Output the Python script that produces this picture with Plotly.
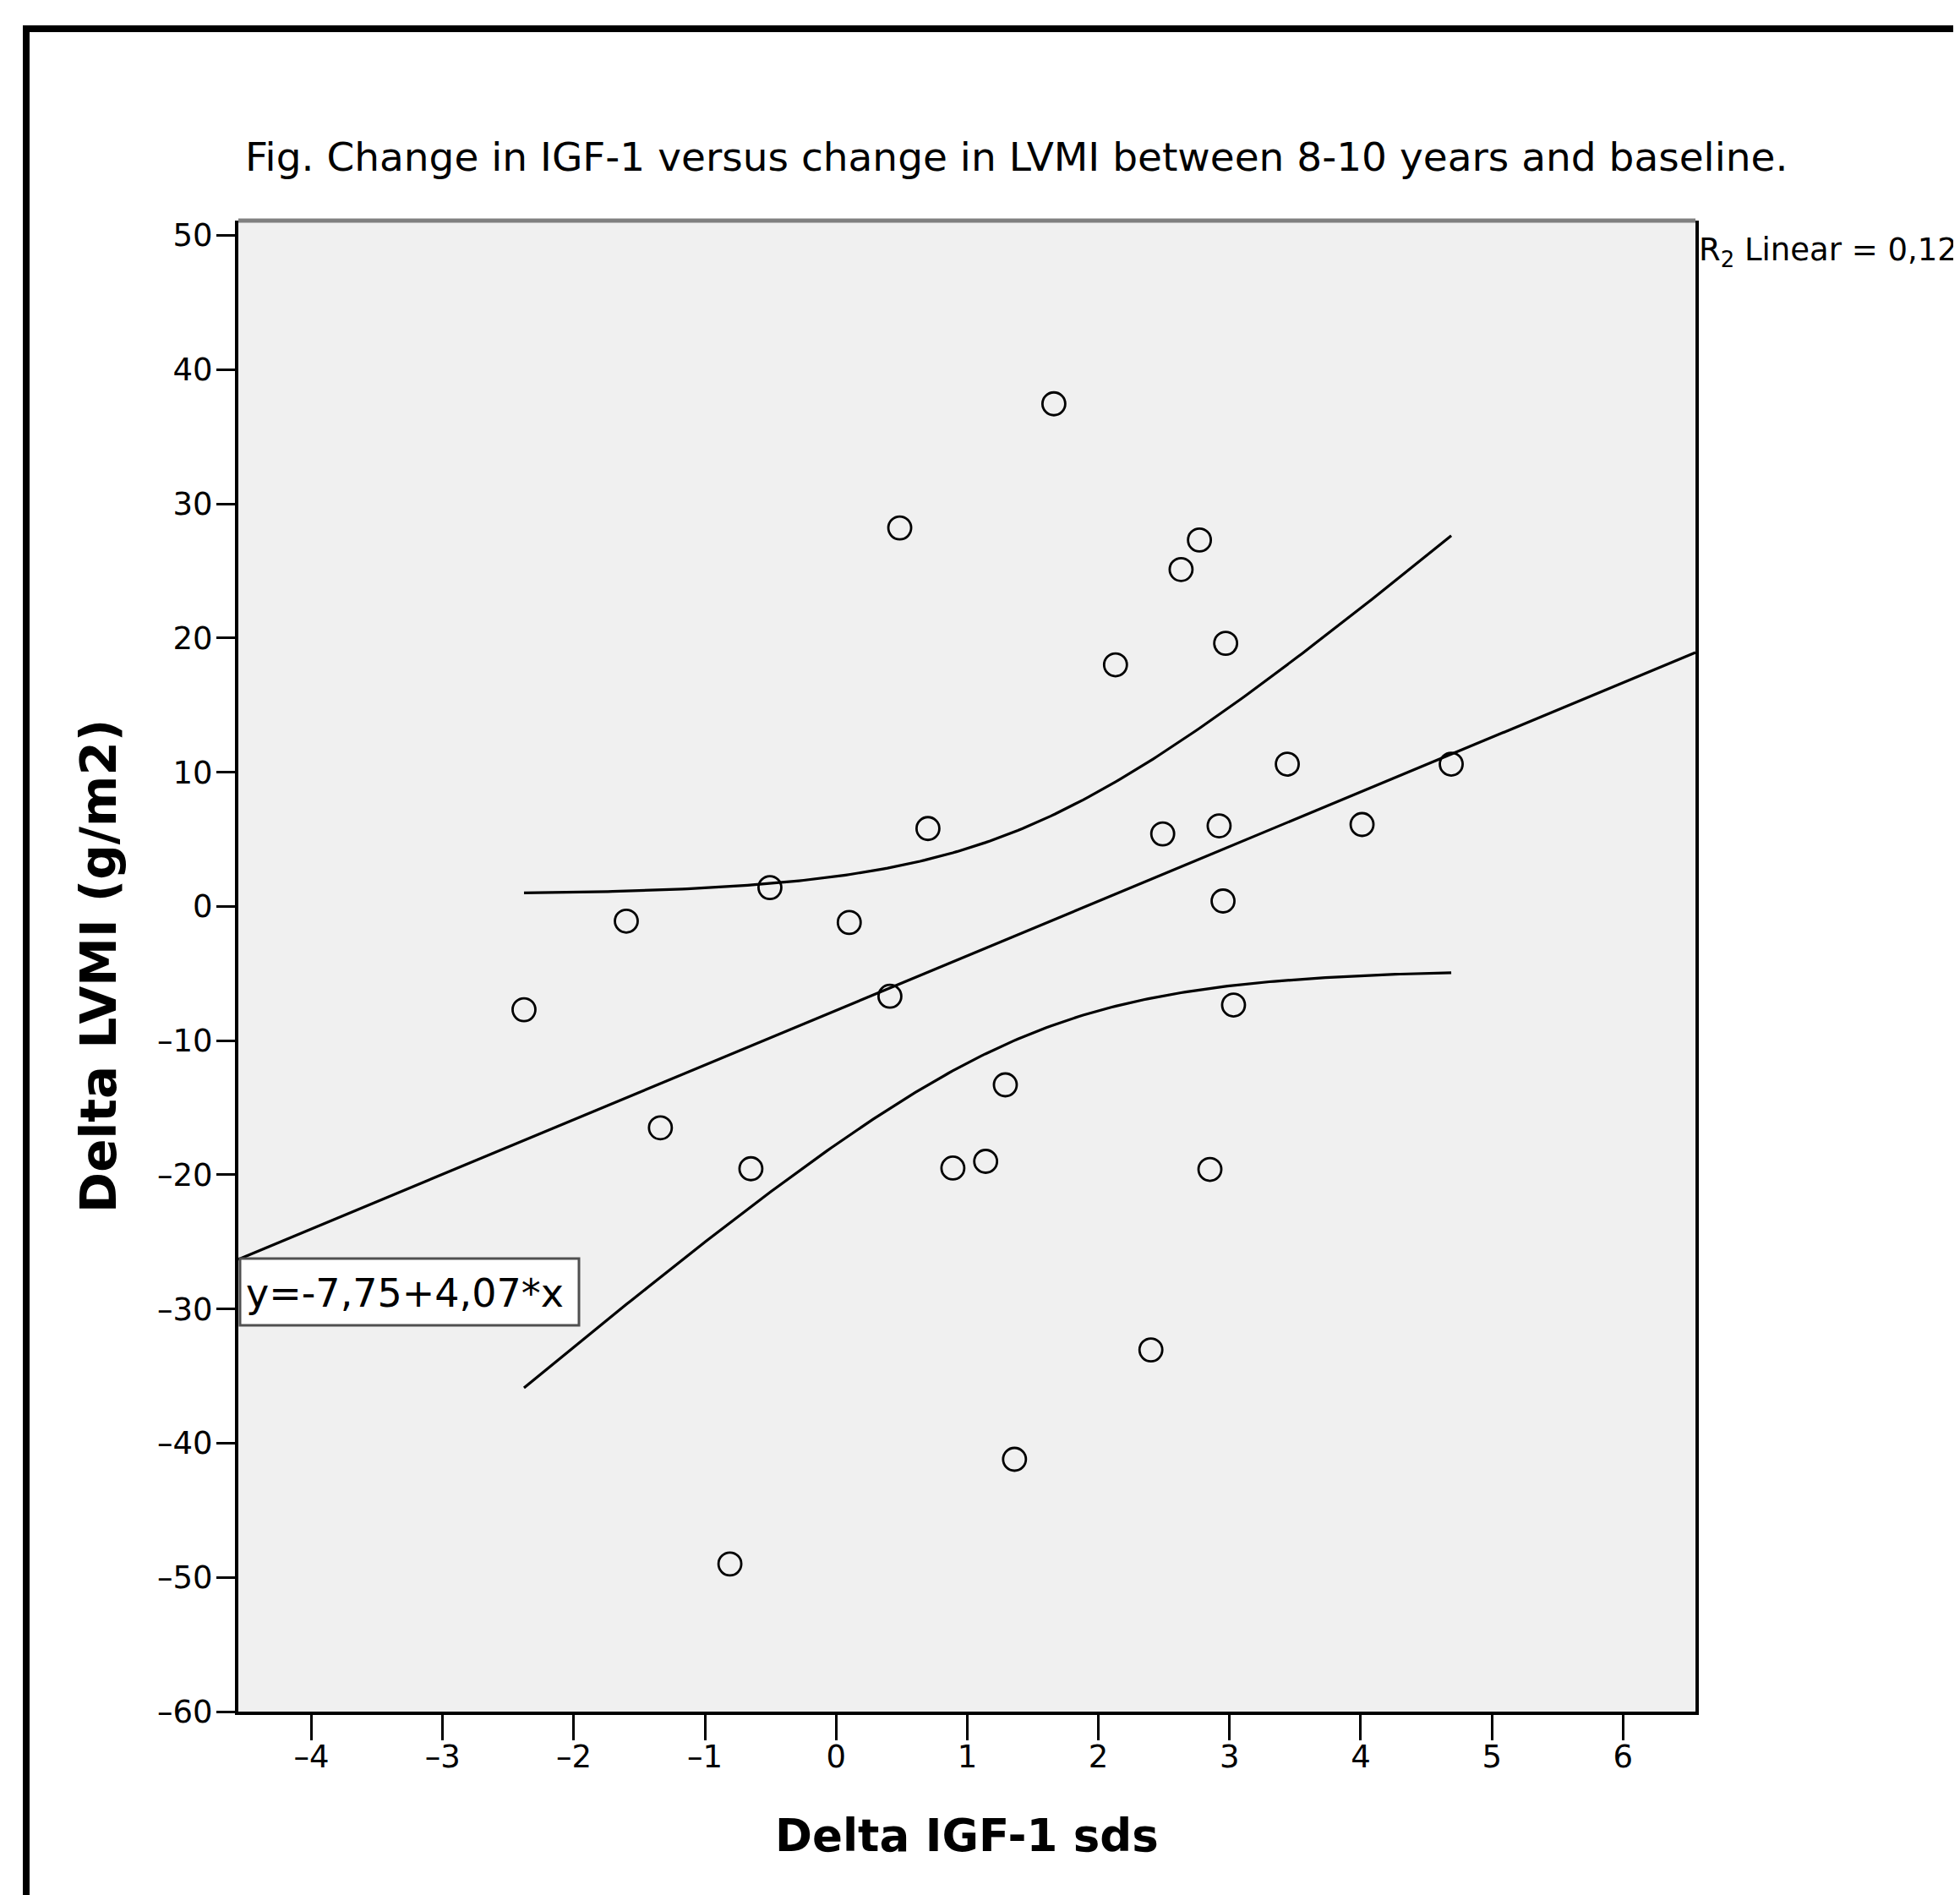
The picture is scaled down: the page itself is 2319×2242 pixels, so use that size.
import numpy as np
import plotly.graph_objects as go

# ---------------- data ----------------
delta_igf1_sds = [1.66, 0.485, 2.77, 2.63, 2.97, 2.13, 3.44, 4.69, 0.70, 2.49,
                  2.92, 4.01, -0.505, 2.95, -1.60, 0.10, -2.38, 0.41, 3.03, 1.29,
                  -1.34, -0.65, 0.89, 1.14, 2.85, 2.40, 1.36, -0.81]
delta_lvmi = [37.45, 28.2, 27.3, 25.1, 19.6, 18.0, 10.6, 10.6, 5.8, 5.4,
              6.0, 6.1, 1.4, 0.4, -1.1, -1.2, -7.7, -6.7, -7.35, -13.3,
              -16.5, -19.55, -19.5, -19.0, -19.6, -33.05, -41.2, -49.0]

fit_intercept = -7.75
fit_slope = 4.07
r2_text = "0,123"
t_crit_95_df26 = 2.056

x_tick_vals = [-4, -3, -2, -1, 0, 1, 2, 3, 4, 5, 6]
y_tick_vals = [-60, -50, -40, -30, -20, -10, 0, 10, 20, 30, 40, 50]
x_range = [-4.558, 6.552]
y_range = [-60, 51.1]

title_text = "Fig. Change in IGF-1 versus change in LVMI between 8-10 years and baseline."
x_title = "Delta IGF-1 sds"
y_title = "Delta LVMI (g/m2)"

# ---------------- derived: fit line and 95% mean CI ----------------
x = np.array(delta_igf1_sds)
y = np.array(delta_lvmi)
n = len(x)
resid = y - (fit_intercept + fit_slope * x)
s = np.sqrt(np.sum(resid ** 2) / (n - 2))
xm = x.mean()
sxx = np.sum((x - xm) ** 2)
xc = np.linspace(x.min(), x.max(), 200)
yc = fit_intercept + fit_slope * xc
half = t_crit_95_df26 * s * np.sqrt(1.0 / n + (xc - xm) ** 2 / sxx)
xf = np.array(x_range)
yf = fit_intercept + fit_slope * xf


def tick_label(v):
    return str(v).replace("-", "\u2013")


# ---------------- layout geometry (page pixels; body has 8px margin) ----------------
OFF = 8
W, H = 2319 - OFF, 2242 - OFF
L, R, T, B = 282, 2006, 261, 2025   # plot area in page pixels


def px(v):
    return (v - L) / (R - L)


def py(v):
    return (B - v) / (B - T)


FONT = "DejaVu Sans"

fig = go.Figure()
line_style = dict(color="black", width=3.2)
fig.add_trace(go.Scatter(x=xc, y=yc + half, mode="lines", line=line_style,
                         showlegend=False, hoverinfo="skip"))
fig.add_trace(go.Scatter(x=xc, y=yc - half, mode="lines", line=line_style,
                         showlegend=False, hoverinfo="skip"))
fig.add_trace(go.Scatter(x=xf, y=yf, mode="lines", line=line_style,
                         showlegend=False, hoverinfo="skip"))
fig.add_trace(go.Scatter(x=delta_igf1_sds, y=delta_lvmi, mode="markers",
                         marker=dict(symbol="circle-open", size=27, color="black",
                                     line=dict(width=2.8, color="black")),
                         showlegend=False))

fig.update_layout(
    width=W, height=H,
    margin=dict(l=L - OFF, r=W - (R - OFF), t=T - OFF, b=H - (B - OFF), pad=0),
    paper_bgcolor="white",
    plot_bgcolor="#F0F0F0",
    font=dict(family=FONT, color="black"),
    xaxis=dict(range=x_range, tickvals=x_tick_vals,
               ticktext=[tick_label(v) for v in x_tick_vals],
               showgrid=False, zeroline=False, showline=True, linecolor="black",
               linewidth=4, mirror=False, ticks="outside", ticklen=30,
               tickwidth=3, tickcolor="black", ticklabelstandoff=-12,
               tickfont=dict(size=37, family=FONT, color="black")),
    yaxis=dict(range=y_range, tickvals=y_tick_vals,
               ticktext=[tick_label(v) for v in y_tick_vals],
               showgrid=False, zeroline=False, showline=True, linecolor="black",
               linewidth=4, mirror=True, ticks="outside", ticklen=22,
               tickwidth=3, tickcolor="black", ticklabelstandoff=-3,
               tickfont=dict(size=37, family=FONT, color="black")),
    shapes=[
        # outer frame of the figure
        dict(type="rect", xref="paper", yref="paper",
             x0=px(31), x1=px(2500), y0=py(2400), y1=py(34),
             line=dict(color="black", width=8), fillcolor="rgba(0,0,0,0)"),
        # grey top edge of the plot frame
        dict(type="line", xref="paper", yref="paper", x0=0, x1=1, y0=1, y1=1,
             line=dict(color="#808080", width=5)),
        # equation box
        dict(type="rect", xref="paper", yref="paper",
             x0=px(284), x1=px(685), y0=py(1568), y1=py(1489),
             line=dict(color="#505050", width=3), fillcolor="white", layer="above"),
    ],
    annotations=[
        dict(text=title_text, xref="paper", yref="paper", x=px(288), y=py(185),
             xanchor="left", yanchor="middle", showarrow=False,
             font=dict(size=47, family=FONT, color="black")),
        dict(text="R<sub>2</sub> Linear = " + r2_text, xref="paper", yref="paper",
             x=px(2008), y=py(298), xanchor="left", yanchor="middle", showarrow=False,
             font=dict(size=37, family=FONT, color="black")),
        dict(text="y=%s+%s*x" % (("%.2f" % fit_intercept).replace(".", ","),
                                 ("%.2f" % fit_slope).replace(".", ",")),
             xref="paper", yref="paper", x=px(289), y=py(1530),
             xanchor="left", yanchor="middle", showarrow=False,
             font=dict(size=46, family=FONT, color="black")),
        dict(text="<b>" + x_title + "</b>", xref="paper", yref="paper",
             x=0.5, y=py(2171), xanchor="center", yanchor="middle", showarrow=False,
             font=dict(size=53, family=FONT, color="black")),
        dict(text="<b>" + y_title + "</b>", xref="paper", yref="paper",
             x=px(117), y=0.5, xanchor="center", yanchor="middle", showarrow=False,
             textangle=-90, font=dict(size=58, family=FONT, color="black")),
    ],
)

fig.write_html("out.html")
